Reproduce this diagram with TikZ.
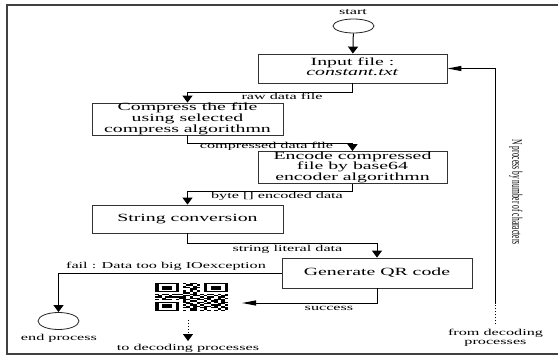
\documentclass[tikz,border=0pt]{standalone}
\usepackage{fontspec}
\setmainfont{Liberation Serif}
\usepackage{graphicx}
\usetikzlibrary{arrows.meta,shapes.geometric}
\newcount\qrx
\newcommand\qrrow[2]{\def\qry{#1}\qrx=0 \qrparse#2\relax}
\def\qrparse#1{\ifx\relax#1\else\if1#1\fill[black] ({155+\the\qrx*3.476},{283+\qry*1.333}) rectangle ++(3.55,1.4);\fi\advance\qrx by 1 \expandafter\qrparse\fi}
\newcommand\wbox[1]{\scalebox{1.8}[1]{\fontsize{11}{10}\selectfont\begin{tabular}{@{}c@{}}#1\end{tabular}}}
\newcommand\wlab[1]{\scalebox{1.8}[1]{\fontsize{9}{9.5}\selectfont\begin{tabular}{@{}c@{}}#1\end{tabular}}}
\begin{document}
\begin{tikzpicture}[x=1pt,y=-1pt,
  box/.style={draw=black!80, line width=0.8pt, inner sep=0pt},
  term/.style={draw=black!85, line width=0.8pt, ellipse, inner sep=0pt},
  lab/.style={inner sep=0pt},
  conn/.style={line width=1pt, black},
  varrow/.style={conn, -{Triangle[length=7pt,width=10pt]}},
  harrow/.style={conn, -{Triangle[length=14pt,width=5pt]}}]
\useasboundingbox (0,0) rectangle (558,356);
\draw[line width=1.2pt, black!75] (7,5) rectangle (558.6,354);
% terminals
\node[term, minimum width=41pt, minimum height=14pt] (start) at (353.5,26) {};
\node[lab] (startlab) at (353,13) {\wlab{start}};
\node[term, minimum width=41pt, minimum height=17pt] (endp) at (58.5,321) {};
\node[lab] (endlab) at (59,338.5) {\wlab{end process}};
% process boxes
\node[box, minimum width=189pt, minimum height=29pt] (input) at (352.5,68.5) {\wbox{Input file :\\\textit{constant.txt}}};
\node[box, minimum width=191pt, minimum height=30pt] (compress) at (187.5,119) {\wbox{Compress the file\\using selected\\compress algorithmn}};
\node[box, minimum width=189pt, minimum height=31pt] (encode) at (352.5,167.5) {\wbox{Encode compressed\\file by base64\\encoder algorithmn}};
\node[box, minimum width=191pt, minimum height=28pt] (string) at (187.5,219) {\wbox{String conversion}};
\node[box, minimum width=190pt, minimum height=30pt] (qrbox) at (377,273) {\wbox{Generate QR code}};
% QR code image
\node[minimum width=74pt, minimum height=28pt, inner sep=0pt] (qr) at (191.5,297) {};
\qrrow{0}{111111101011001111111}
\qrrow{1}{100000100110101000001}
\qrrow{2}{101110101001001011101}
\qrrow{3}{101110101101101011101}
\qrrow{4}{101110100011001011101}
\qrrow{5}{100000101010101000001}
\qrrow{6}{111111101010101111111}
\qrrow{7}{000000001101000000000}
\qrrow{8}{101101110011010110101}
\qrrow{9}{010010001101101001011}
\qrrow{10}{110111111010010110110}
\qrrow{11}{001000011011101100101}
\qrrow{12}{101110101100110101110}
\qrrow{13}{000000001011001011010}
\qrrow{14}{111111101100110101011}
\qrrow{15}{100000100110101100110}
\qrrow{16}{101110101011010011101}
\qrrow{17}{101110100101101101010}
\qrrow{18}{101110101101011011011}
\qrrow{19}{100000100011001000101}
\qrrow{20}{111111101011010101010}
% text-only nodes
\node[lab] (todec) at (188,349) {\wlab{to decoding processes}};
\node[lab] (fromdec) at (495.5,338) {\wlab{from decoding\\processes}};
\node[lab] (nproc) at (516,192) {\rotatebox{-90}{\scalebox{0.84}[1.6]{\fontsize{9}{10}\selectfont N process by number of characters}}};
% connector labels
\node[lab] (l1) at (282,97.5) {\wlab{raw data file}};
\node[lab] (l2) at (266.5,146.5) {\wlab{compressed data file}};
\node[lab] (l3) at (277,196.5) {\wlab{byte [] encoded data}};
\node[lab] (l4) at (287.5,249.5) {\wlab{string literal data}};
\node[lab] (l5) at (166,267) {\wlab{fail : Data too big IOexception}};
\node[lab] (l6) at (329,308.5) {\wlab{success}};
% coordinates
\coordinate (succ) at (242,303);
\coordinate (loopc) at (495.5,303);
% connectors
\draw[varrow] (start) -- (input);
\draw[varrow] (input.south) -- ++(0,9) -| (compress.north);
\draw[varrow] (compress.south) -- ++(0,8) -| (encode.north);
\draw[varrow] (encode.south) -- ++(0,8) -| (string.north);
\draw[varrow] (string.south) -- ++(0,10) -| (qrbox.north);
\draw[varrow] (qrbox.west) -| (endp.north);
\draw[harrow] (qrbox.south) |- (succ);
\draw[varrow, dotted] ([yshift=-9pt]qr.south -| todec.north) -- ([yshift=3pt]todec.north);
\draw[conn, dotted] ([yshift=4pt]fromdec.north) -- (loopc);
\draw[harrow] (loopc) |- (input.east);
\end{tikzpicture}
\end{document}
